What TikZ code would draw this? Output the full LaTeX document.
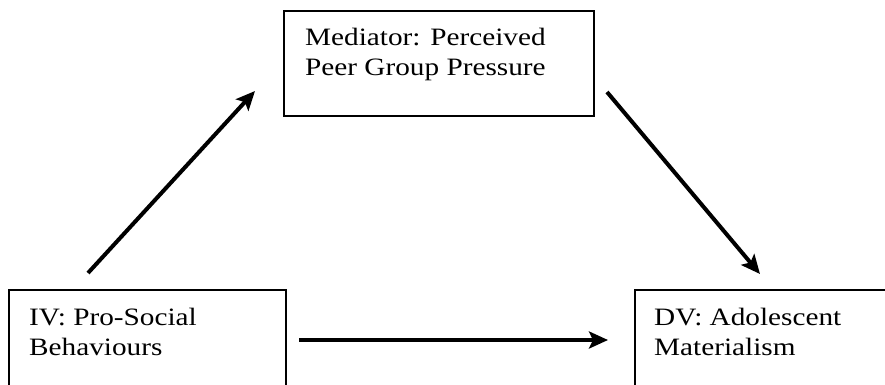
\documentclass[tikz,border=0pt]{standalone}
\usepackage{fontspec}
\setmainfont{Liberation Serif}[FakeStretch=1.17]
\usetikzlibrary{arrows.meta}
\begin{document}
\begin{tikzpicture}[x=1pt,y=-1pt,
  box/.style={draw=black,line width=1.5pt,inner sep=0pt,anchor=north west},
  lbl/.style={inner sep=0pt,anchor=base west,align=left,
    font=\fontsize{25}{30}\selectfont},
  arr/.style={line width=4pt,-{Stealth[length=19pt,width=17pt,inset=4pt]}}]
\useasboundingbox (0,0) rectangle (885,384);
\clip (0,0) rectangle (885,384);
\node[box,minimum width=310pt,minimum height=105pt] (med) at (283,10) {};
\node[box,minimum width=277pt,minimum height=110pt] (iv) at (8,289) {};
\node[box,minimum width=270pt,minimum height=110pt] (dv) at (634,289) {};
\node[lbl] (medt) at (305,75) {Mediator: Perceived\\Peer Group Pressure};
\node[lbl] (ivt) at (29,355) {IV: Pro-Social\\Behaviours};
\node[lbl] (dvt) at (654,355) {DV: Adolescent\\Materialism};
\coordinate (a1s) at (88,273);
\coordinate (a1e) at (255,91);
\coordinate (a2s) at (607,92);
\coordinate (a2e) at (760,274);
\coordinate (a3s) at (299,340);
\coordinate (a3e) at (608,340);
\draw[arr] (a1s) -- (a1e);
\draw[arr] (a2s) -- (a2e);
\draw[arr] (a3s) -- (a3e);
\end{tikzpicture}
\end{document}
